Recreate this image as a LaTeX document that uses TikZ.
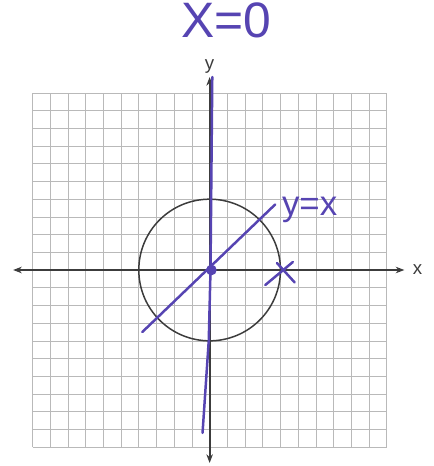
\documentclass[tikz,border=0pt]{standalone}
\usepackage{fontspec}
\setmainfont{Liberation Sans}
\usetikzlibrary{arrows.meta}
\definecolor{caneta}{RGB}{86,68,178}
\definecolor{eixo}{RGB}{60,60,60}
\begin{document}
\begin{tikzpicture}[scale=0.5,
    malha/.style={gray!55, line width=0.5pt},
    eixos/.style={eixo, line width=1.6pt, {Stealth[length=7pt]}-{Stealth[length=7pt]}},
    tinta/.style={caneta, line width=2pt, line cap=round, line join=round}]
        \useasboundingbox (-11.84,-11.07) rectangle (12.63,15.25);

        % malha
        \draw[malha] (-10,-10) grid (10,10);

        % eixos
        \draw[eixos] (-11.1,0) -- (11,0);
        \draw[eixos] (0,-10.9) -- (0,10.9);
        \node[eixo, inner sep=0pt, font=\fontsize{15}{15}\selectfont] (rotx) at (11.75,0) {x};
        \node[eixo, inner sep=0pt, font=\fontsize{15}{15}\selectfont] (roty) at (0,11.5) {y};

        % circunferencia
        \draw[eixo, line width=1.2pt] (0,0) circle (4);

        % retas a caneta
        \draw[tinta] (0.15,10.9) -- (0.05,0) -- (-0.05,-4) -- (-0.4,-9.2);
        \draw[tinta] (-3.8,-3.5) -- (3.7,3.7);
        \fill[caneta] (0.1,0) circle (0.3);

        % marca em (4,0)
        \draw[tinta] (3.14,-0.85) -- (4.7,0.45);
        \draw[tinta] (3.8,0.4) -- (4.8,-0.7);

        % rotulos
        \node[caneta, inner sep=0pt, font=\fontsize{40}{40}\selectfont] (eqx) at (0.95,14.1) {X=0};
        \node[caneta, inner sep=0pt, font=\fontsize{28}{28}\selectfont] (eqy) at (5.65,3.4) {y=x};
    \end{tikzpicture}
\end{document}
